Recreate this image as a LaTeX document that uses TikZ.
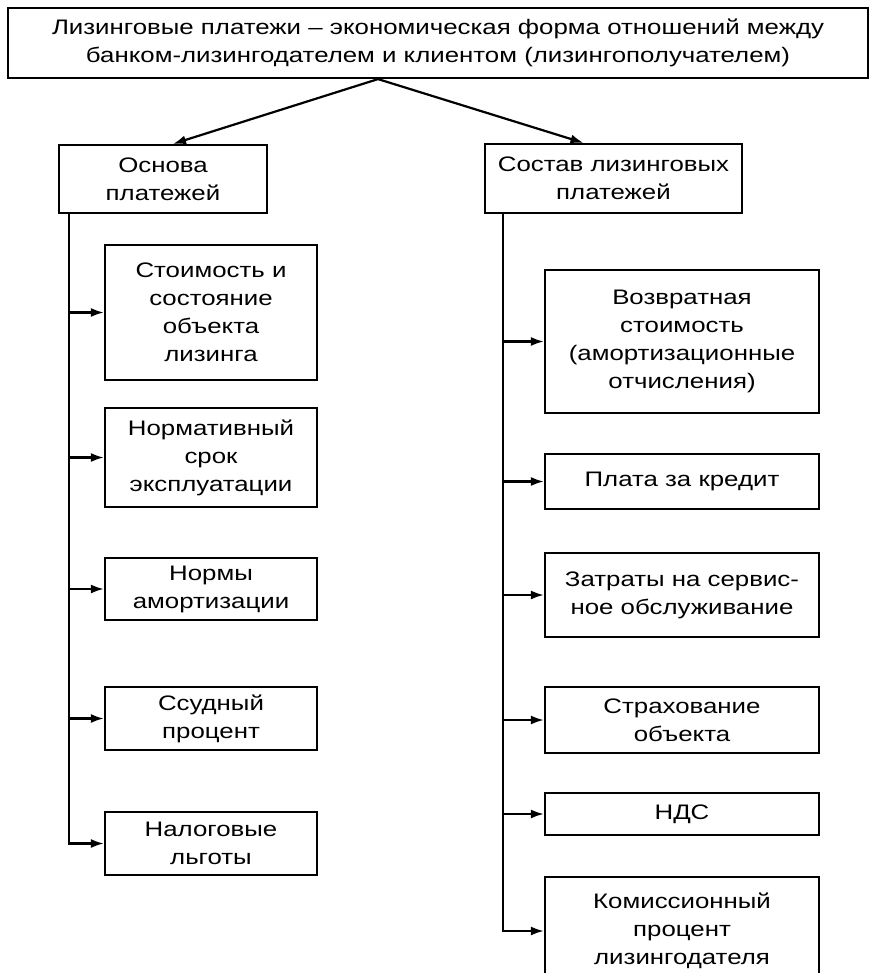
\documentclass[tikz,border=0pt]{standalone}
\usepackage{fontspec}
\setmainfont[FakeStretch=1.23]{Liberation Sans}
\usetikzlibrary{arrows.meta}

\begin{document}
\begin{tikzpicture}[x=0.5pt, y=-0.5pt,
  font=\fontsize{10.5pt}{14pt}\selectfont,
  box/.style={draw, line width=1.1pt, align=center, inner sep=0pt},
  arr/.style={-{Latex[length=6.5pt,width=4.5pt]}, line width=1.1pt}]
  \useasboundingbox (0,0) rectangle (873,973);
  \clip (0,0) rectangle (873,973);

  % --- Headline box ---
  \node[box, minimum width=430pt, minimum height=35pt] (head) at (438,43)
    {Лизинговые платежи – экономическая форма отношений между\\
     банком-лизингодателем и клиентом (лизингополучателем)};

  % --- Two branches ---
  \node[box, minimum width=104pt, minimum height=34pt] (basis) at (163,179)
    {Основа\\платежей};
  \node[box, minimum width=128.5pt, minimum height=34.5pt] (comp) at (613.5,178.5)
    {Состав лизинговых\\платежей};

  \coordinate (split) at ([xshift=-30pt]head.south);
  \draw[arr] (split) -- ([xshift=5pt]basis.north);
  \draw[arr] (split) -- ([xshift=-15pt]comp.north);

  % --- Left column: what the payments rest on ---
  \node[box, minimum width=106pt, minimum height=67.5pt] (l1) at (211,312.5)
    {Стоимость и\\состояние\\объекта\\лизинга};
  \node[box, minimum width=106pt, minimum height=49.5pt] (l2) at (211,457.5)
    {Нормативный\\срок\\эксплуатации};
  \node[box, minimum width=106pt, minimum height=31pt] (l3) at (211,589)
    {Нормы\\амортизации};
  \node[box, minimum width=106pt, minimum height=31.5pt] (l4) at (211,718.5)
    {Ссудный\\процент};
  \node[box, minimum width=106pt, minimum height=31.5pt] (l5) at (211,843.5)
    {Налоговые\\льготы};

  \coordinate (ltrunk) at (69,213);
  \draw[arr] (ltrunk) |- (l5);
  \foreach \n in {l1,l2,l3,l4}
    \draw[arr] (ltrunk |- \n.west) -- (\n);

  % --- Right column: what the payments consist of ---
  \node[box, minimum width=137pt, minimum height=71.5pt] (r1) at (682,341.5)
    {Возвратная\\стоимость\\(амортизационные\\отчисления)};
  \node[box, minimum width=137pt, minimum height=27.5pt] (r2) at (682,481.5)
    {Плата за кредит};
  \node[box, minimum width=137pt, minimum height=42pt] (r3) at (682,595)
    {Затраты на сервис-\\ное обслуживание};
  \node[box, minimum width=137pt, minimum height=33pt] (r4) at (682,720)
    {Страхование\\объекта};
  \node[box, minimum width=137pt, minimum height=21pt] (r5) at (682,814)
    {НДС};
  \node[box, minimum width=137pt, minimum height=54pt] (r6) at (682,931)
    {Комиссионный\\процент\\лизингодателя};

  \coordinate (rtrunk) at (503,213);
  \draw[arr] (rtrunk) |- (r6);
  \foreach \n in {r1,r2,r3,r4,r5}
    \draw[arr] (rtrunk |- \n.west) -- (\n);
\end{tikzpicture}
\end{document}
